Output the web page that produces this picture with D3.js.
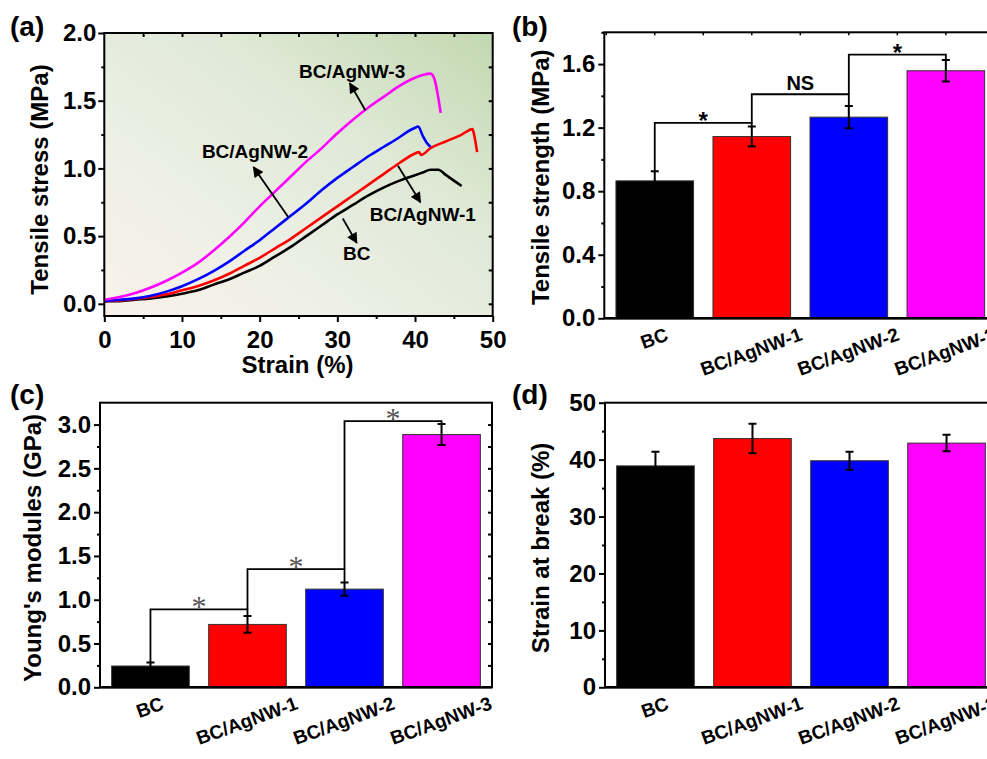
<!DOCTYPE html>
<html>
<head>
<meta charset="utf-8">
<script src="https://cdn.jsdelivr.net/npm/d3@7/dist/d3.min.js"></script>
<style>
body { margin: 0; background: #fff; }
svg text { font-family: "Liberation Sans", Arial, sans-serif; font-weight: bold; }
</style>
</head>
<body>
<script>
// stress-strain curves: [strain %, stress MPa]
var curveBC = [[0,0.02],[2,0.02],[4,0.03],[6,0.04],[8,0.055],[10,0.075],[12,0.10],[14,0.14],[16,0.18],[18,0.23],[20,0.28],[22,0.35],[24,0.42],[26,0.50],[28,0.58],[30,0.66],[32,0.73],[34,0.80],[36,0.86],[38,0.91],[40,0.95],[41,0.97],[42,0.99],[43,0.99],[44,0.95],[45,0.91],[46,0.87]];
var curveAg1 = [[0,0.02],[2,0.025],[4,0.035],[6,0.05],[8,0.07],[10,0.10],[12,0.13],[14,0.17],[16,0.22],[18,0.28],[20,0.34],[22,0.41],[24,0.48],[26,0.56],[28,0.64],[30,0.72],[32,0.80],[34,0.88],[36,0.96],[38,1.04],[40,1.11],[40.5,1.12],[40.8,1.10],[42,1.15],[44,1.20],[46,1.25],[47.4,1.29],[47.6,1.25],[48,1.12]];
var curveAg2 = [[0,0.02],[2,0.03],[4,0.04],[6,0.06],[8,0.09],[10,0.13],[12,0.18],[14,0.24],[16,0.31],[18,0.39],[20,0.47],[22,0.56],[24,0.65],[26,0.74],[28,0.84],[30,0.93],[32,1.01],[34,1.09],[36,1.16],[38,1.23],[39,1.27],[40,1.30],[40.4,1.31],[41,1.24],[41.5,1.19],[42,1.16]];
var curveAg3 = [[0,0.03],[2,0.05],[4,0.08],[6,0.12],[8,0.17],[10,0.23],[12,0.30],[14,0.39],[16,0.49],[18,0.60],[20,0.72],[22,0.83],[24,0.94],[26,1.05],[28,1.15],[30,1.26],[32,1.36],[34,1.45],[36,1.53],[38,1.61],[40,1.67],[41,1.69],[42,1.70],[42.5,1.66],[43,1.52],[43.3,1.41]];

// curve labels and arrows, in data units of panel (a)
var curveNames = ["BC", "BC/AgNW-1", "BC/AgNW-2", "BC/AgNW-3"];
var labelAt = [[32.5,0.32],[41.0,0.61],[19.4,1.08],[31.9,1.67]];
var arrowFrom = [[30.7,0.63],[37.8,1.02],[23.7,0.64],[33.6,1.43]];
var arrowTo = [[32.5,0.45],[40.7,0.75],[19.2,1.01],[31.6,1.63]];

var aXTicks = [0,10,20,30,40,50];
var aYTicks = [0,0.5,1.0,1.5,2.0];

// bar panels
var categories = ["BC", "BC/AgNW-1", "BC/AgNW-2", "BC/AgNW-3"];
var strengthMean = [0.865, 1.144, 1.266, 1.558];
var strengthErr = [0.06, 0.063, 0.07, 0.068];
var strengthLevels = [1.23, 1.41, 1.66];
var strengthSig = ["*", "NS", "*"];
var modulusMean = [0.243, 0.718, 1.121, 2.886];
var modulusErr = [0.04, 0.095, 0.075, 0.12];
var modulusLevels = [0.89, 1.35, 3.04];
var modulusSig = ["*", "*", "*"];
var breakMean = [38.9, 43.7, 39.8, 42.9];
var breakErr = [2.5, 2.6, 1.6, 1.45];

var strengthTicks = [0, 0.4, 0.8, 1.2, 1.6];
var modulusTicks = [0, 0.5, 1.0, 1.5, 2.0, 2.5, 3.0];
var breakTicks = [0, 10, 20, 30, 40, 50];

var colors = ["#000000", "#ff0000", "#0000ff", "#ff00ff"];

var svg = d3.select("body").append("svg")
    .attr("width", 987)
    .attr("height", 759);

var defs = svg.append("defs");
var grad = defs.append("linearGradient")
    .attr("id", "bg")
    .attr("x1", 0).attr("y1", 1).attr("x2", 1).attr("y2", 0);
[["0", "#f9f2ea"], ["0.3", "#eef0e6"], ["0.65", "#dfe9d6"], ["1", "#c1d8b0"]].forEach(function (s) {
    grad.append("stop").attr("offset", s[0]).attr("stop-color", s[1]);
});
defs.append("marker")
    .attr("id", "head")
    .attr("viewBox", "0 0 10 10")
    .attr("refX", 9).attr("refY", 5)
    .attr("markerWidth", 6.5).attr("markerHeight", 6)
    .attr("markerUnits", "strokeWidth")
    .attr("orient", "auto")
    .append("path")
    .attr("d", "M0,0 L10,5 L0,10 Z")
    .attr("fill", "#000");

var tickFont = 24;

function styleAxis(sel) {
    sel.select(".domain").remove();
    sel.selectAll(".tick line").attr("stroke", "#000").attr("stroke-width", 2);
    sel.selectAll(".tick text")
        .attr("fill", "#000")
        .style("font-size", tickFont + "px");
}

function letter(txt, x, y) {
    svg.append("text").text(txt)
        .attr("x", x).attr("y", y)
        .style("font-size", "28px");
}

function yTitle(txt, x, y) {
    svg.append("text").text(txt)
        .attr("transform", "translate(" + x + "," + y + ") rotate(-90)")
        .attr("text-anchor", "middle")
        .style("font-size", "24px");
}

// ---------- panel (a) ----------
var aL = 104.3, aR = 492.7, aT = 33, aB = 316;
var xA = d3.scaleLinear().domain([0, 50]).range([aL, aR]);
var yA = d3.scaleLinear().domain([-0.09, 2.0]).range([aB, aT]);

svg.append("rect")
    .attr("x", aL).attr("y", aT)
    .attr("width", aR - aL).attr("height", aB - aT)
    .attr("fill", "url(#bg)");

var line = d3.line()
    .x(function (d) { return xA(d[0]); })
    .y(function (d) { return yA(d[1]); })
    .curve(d3.curveMonotoneX);

[curveBC, curveAg1, curveAg2, curveAg3].forEach(function (c, i) {
    svg.append("path")
        .datum(c)
        .attr("d", line)
        .attr("fill", "none")
        .attr("stroke", colors[i])
        .attr("stroke-width", 2.6);
});

curveNames.forEach(function (n, i) {
    svg.append("line")
        .attr("x1", xA(arrowFrom[i][0])).attr("y1", yA(arrowFrom[i][1]))
        .attr("x2", xA(arrowTo[i][0])).attr("y2", yA(arrowTo[i][1]))
        .attr("stroke", "#000")
        .attr("stroke-width", 1.8)
        .attr("marker-end", "url(#head)");
    svg.append("text").text(n)
        .attr("x", xA(labelAt[i][0]))
        .attr("y", yA(labelAt[i][1]))
        .attr("text-anchor", "middle")
        .style("font-size", "19px");
});

svg.append("g").attr("transform", "translate(0," + aB + ")")
    .call(d3.axisBottom(xA).tickValues(aXTicks).tickSize(6).tickPadding(9).tickFormat(d3.format("d")))
    .call(styleAxis);
svg.append("g").attr("transform", "translate(0," + aB + ")")
    .call(d3.axisBottom(xA).tickValues([5, 15, 25, 35, 45]).tickSize(3).tickFormat(""))
    .call(styleAxis);
svg.append("g").attr("transform", "translate(" + aL + ",0)")
    .call(d3.axisLeft(yA).tickValues(aYTicks).tickSize(6).tickPadding(2).tickFormat(d3.format(".1f")))
    .call(styleAxis);
svg.append("g").attr("transform", "translate(" + aL + ",0)")
    .call(d3.axisLeft(yA).tickValues([0.25, 0.75, 1.25, 1.75]).tickSize(3).tickFormat(""))
    .call(styleAxis);
svg.append("g").attr("transform", "translate(0," + aT + ")")
    .call(d3.axisTop(xA).tickValues(d3.range(5, 50, 5)).tickSize(-4).tickFormat(""))
    .call(styleAxis);
svg.append("g").attr("transform", "translate(" + aR + ",0)")
    .call(d3.axisRight(yA).tickValues(d3.range(0, 2, 0.25)).tickSize(-4).tickFormat(""))
    .call(styleAxis);

svg.append("rect")
    .attr("x", aL).attr("y", aT)
    .attr("width", aR - aL).attr("height", aB - aT)
    .attr("fill", "none").attr("stroke", "#000").attr("stroke-width", 2);

svg.append("text").text("Strain (%)")
    .attr("x", (aL + aR) / 2 - 1).attr("y", 373)
    .attr("text-anchor", "middle")
    .style("font-size", "24px");
yTitle("Tensile stress (MPa)", 48, (aT + aB) / 2 + 5);
letter("(a)", 10, 36);

// ---------- bar panels ----------
function barPanel(p) {
    var x = d3.scaleBand().domain(categories)
        .range([p.left, p.left + 392])
        .paddingInner(0.2).paddingOuter(0.12);
    var y = d3.scaleLinear().domain(p.domain).range([p.bottom, p.top]);
    var cx = function (i) { return x(categories[i]) + x.bandwidth() / 2; };
    var g = svg.append("g");

    g.selectAll("rect.bar")
        .data(p.mean)
        .join("rect")
        .attr("class", "bar")
        .attr("x", function (d, i) { return x(categories[i]); })
        .attr("y", function (d) { return y(d); })
        .attr("width", x.bandwidth())
        .attr("height", function (d) { return y(0) - y(d); })
        .attr("fill", function (d, i) { return colors[i]; })
        .attr("stroke", "#333")
        .attr("stroke-width", 1);

    // error bars
    p.mean.forEach(function (m, i) {
        var hi = y(m + p.err[i]), lo = y(m - p.err[i]), c = cx(i);
        g.append("path")
            .attr("d", "M" + c + "," + hi + "V" + lo +
                "M" + (c - 4) + "," + hi + "H" + (c + 4) +
                "M" + (c - 4) + "," + lo + "H" + (c + 4))
            .attr("fill", "none")
            .attr("stroke", "#000")
            .attr("stroke-width", 2);
    });

    // significance brackets
    if (p.levels) {
        p.levels.forEach(function (lv, i) {
            var start = i == 0 ? p.mean[0] + p.err[0] : p.levels[i - 1];
            var end = p.mean[i + 1] + p.err[i + 1];
            g.append("path")
                .attr("d", "M" + cx(i) + "," + y(start) + "V" + y(lv) + "H" + cx(i + 1) + "V" + y(end))
                .attr("fill", "none")
                .attr("stroke", "#000")
                .attr("stroke-width", 1.8);
            var s = p.sig[i];
            var t = g.append("text").text(s)
                .attr("x", (cx(i) + cx(i + 1)) / 2)
                .attr("text-anchor", "middle");
            if (s == "NS") {
                t.attr("y", y(lv) - 4).style("font-size", "20px");
            } else if (p.serifStar) {
                t.attr("y", y(lv) + 7)
                    .style("font-family", "'Liberation Serif', 'Times New Roman', serif")
                    .style("font-weight", "normal")
                    .style("font-size", "30px")
                    .attr("fill", "#555");
            } else {
                t.attr("y", y(lv) + 6).style("font-size", "24px");
            }
        });
    }

    // frame
    g.append("rect")
        .attr("x", p.left).attr("y", p.top)
        .attr("width", 392).attr("height", p.bottom - p.top)
        .attr("fill", "none").attr("stroke", "#000").attr("stroke-width", 2);
    g.append("line")
        .attr("x1", p.left).attr("x2", p.left + 392)
        .attr("y1", p.bottom).attr("y2", p.bottom)
        .attr("stroke", "#000").attr("stroke-width", 2.6);

    g.append("g").attr("transform", "translate(" + p.left + ",0)")
        .call(d3.axisLeft(y).tickValues(p.ticks).tickSize(6).tickPadding(3).tickFormat(d3.format(p.fmt)))
        .call(styleAxis);
    g.append("g").attr("transform", "translate(" + p.left + ",0)")
        .call(d3.axisLeft(y).tickValues(p.minor).tickSize(3).tickFormat(""))
        .call(styleAxis);

    if (p.topTicks) {
        var half = [];
        categories.forEach(function (c, i) {
            half.push(x(c) - x.step() * x.paddingInner() / 2);
            half.push(cx(i));
        });
        g.append("g").selectAll("line").data(half).join("line")
            .attr("x1", function (d) { return d; }).attr("x2", function (d) { return d; })
            .attr("y1", p.top).attr("y2", p.top + 3)
            .attr("stroke", "#000").attr("stroke-width", 1.5);
    }
    if (p.rightTicks) {
        g.append("g").attr("transform", "translate(" + (p.left + 392) + ",0)")
            .call(d3.axisRight(y).tickValues(p.rightTicks).tickSize(-4).tickFormat(""))
            .call(styleAxis);
    }

    // rotated category labels, box top sits 10px under the axis
    var ang = 20 * Math.PI / 180;
    categories.forEach(function (c, i) {
        var t = g.append("text").text(c)
            .attr("text-anchor", "middle")
            .attr("dy", "0.25em")
            .style("font-size", "19px");
        var w = t.node().getComputedTextLength();
        var boxH = w * Math.sin(ang) + 17 * Math.cos(ang);
        t.attr("transform", "translate(" + cx(i) + "," + (p.bottom + 9 + boxH / 2) + ") rotate(-20)");
    });

    yTitle(p.title, p.titleX, (p.top + p.bottom) / 2 + p.titleDy);
    letter(p.letter, p.letterX, p.letterY);
}

barPanel({
    left: 604.3, top: 32.3, bottom: 318.3, domain: [0, 1.8],
    mean: strengthMean, err: strengthErr, levels: strengthLevels, sig: strengthSig,
    ticks: strengthTicks, minor: [0.2, 0.6, 1.0, 1.4, 1.8], fmt: ".1f",
    topTicks: true,
    title: "Tensile strength (MPa)", titleX: 549, titleDy: 2,
    letter: "(b)", letterX: 512, letterY: 36
});

barPanel({
    left: 100, top: 402.7, bottom: 687.3, domain: [0, 3.25],
    mean: modulusMean, err: modulusErr, levels: modulusLevels, sig: modulusSig,
    serifStar: true,
    ticks: modulusTicks, minor: [0.25, 0.75, 1.25, 1.75, 2.25, 2.75], fmt: ".1f",
    rightTicks: d3.range(0.25, 3.25, 0.25),
    title: "Young's modules (GPa)", titleX: 41, titleDy: 3,
    letter: "(c)", letterX: 10, letterY: 404
});

barPanel({
    left: 605, top: 402.7, bottom: 687.3, domain: [0, 50],
    mean: breakMean, err: breakErr,
    ticks: breakTicks, minor: [5, 15, 25, 35, 45], fmt: "d",
    title: "Strain at break (%)", titleX: 549, titleDy: 3,
    letter: "(d)", letterX: 512, letterY: 404
});
</script>
</body>
</html>
